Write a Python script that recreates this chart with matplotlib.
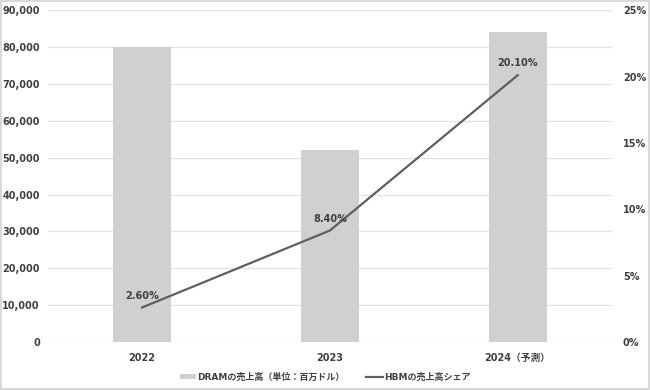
import matplotlib.pyplot as plt
from matplotlib.ticker import FuncFormatter, MultipleLocator

years = ["2022", "2023", "2024（予測）"]
dram_sales = [80000, 52000, 84000]
hbm_share = [2.6, 8.4, 20.1]

plt.rcParams['font.family'] = ['DejaVu Sans', 'Noto Sans CJK JP']
plt.rcParams['font.weight'] = 'bold'
text_color = "#404040"


def main():
    fig = plt.figure(figsize=(6.5, 3.9), dpi=100)
    fig.patch.set_edgecolor("#d9d9d9")
    fig.patch.set_linewidth(1.5)
    ax = fig.add_axes([0.074, 0.123, 0.867, 0.851])
    x = list(range(len(years)))

    bars = ax.bar(x, dram_sales, width=0.31, color="#d0d0d0",
                  label="DRAMの売上高（単位：百万ドル）", zorder=2)
    ax.set_xlim(-0.5, 2.5)
    ax.set_ylim(0, 90000)
    ax.yaxis.set_major_locator(MultipleLocator(10000))
    ax.yaxis.set_major_formatter(FuncFormatter(lambda v, p: f"{int(v):,}"))
    ax.grid(axis="y", color="#e3e3e3", linewidth=1, zorder=0)
    ax.set_axisbelow(True)
    ax.set_xticks(x, years)

    ax2 = ax.twinx()
    line, = ax2.plot(x, hbm_share, color="#5f5f5f", linewidth=1.6,
                     label="HBMの売上高シェア")
    ax2.set_ylim(0, 25)
    ax2.yaxis.set_major_locator(MultipleLocator(5))
    ax2.yaxis.set_major_formatter(FuncFormatter(lambda v, p: f"{int(v)}%"))
    for xi, v in zip(x, hbm_share):
        ax2.annotate(f"{v:.2f}%", (xi, v), xytext=(0, 5),
                     textcoords="offset points", ha="center", va="bottom",
                     fontsize=7, fontweight="bold", color=text_color)

    for a in (ax, ax2):
        for s in a.spines.values():
            s.set_visible(False)
        a.tick_params(length=0, labelsize=7, labelcolor=text_color)
    ax.tick_params(axis="y", pad=6)
    ax.tick_params(axis="x", pad=8)
    ax2.tick_params(axis="y", pad=8)

    fig.legend([bars, line], [bars.get_label(), line.get_label()],
               loc="center", bbox_to_anchor=(0.5, 0.033), ncol=2,
               frameon=False, fontsize=6.5, labelcolor=text_color,
               handlelength=1.8, handleheight=0.6, columnspacing=2.4,
               handletextpad=0.15)
    fig.savefig("out.png", dpi=100, edgecolor=fig.get_edgecolor())


if __name__ == "__main__":
    main()
